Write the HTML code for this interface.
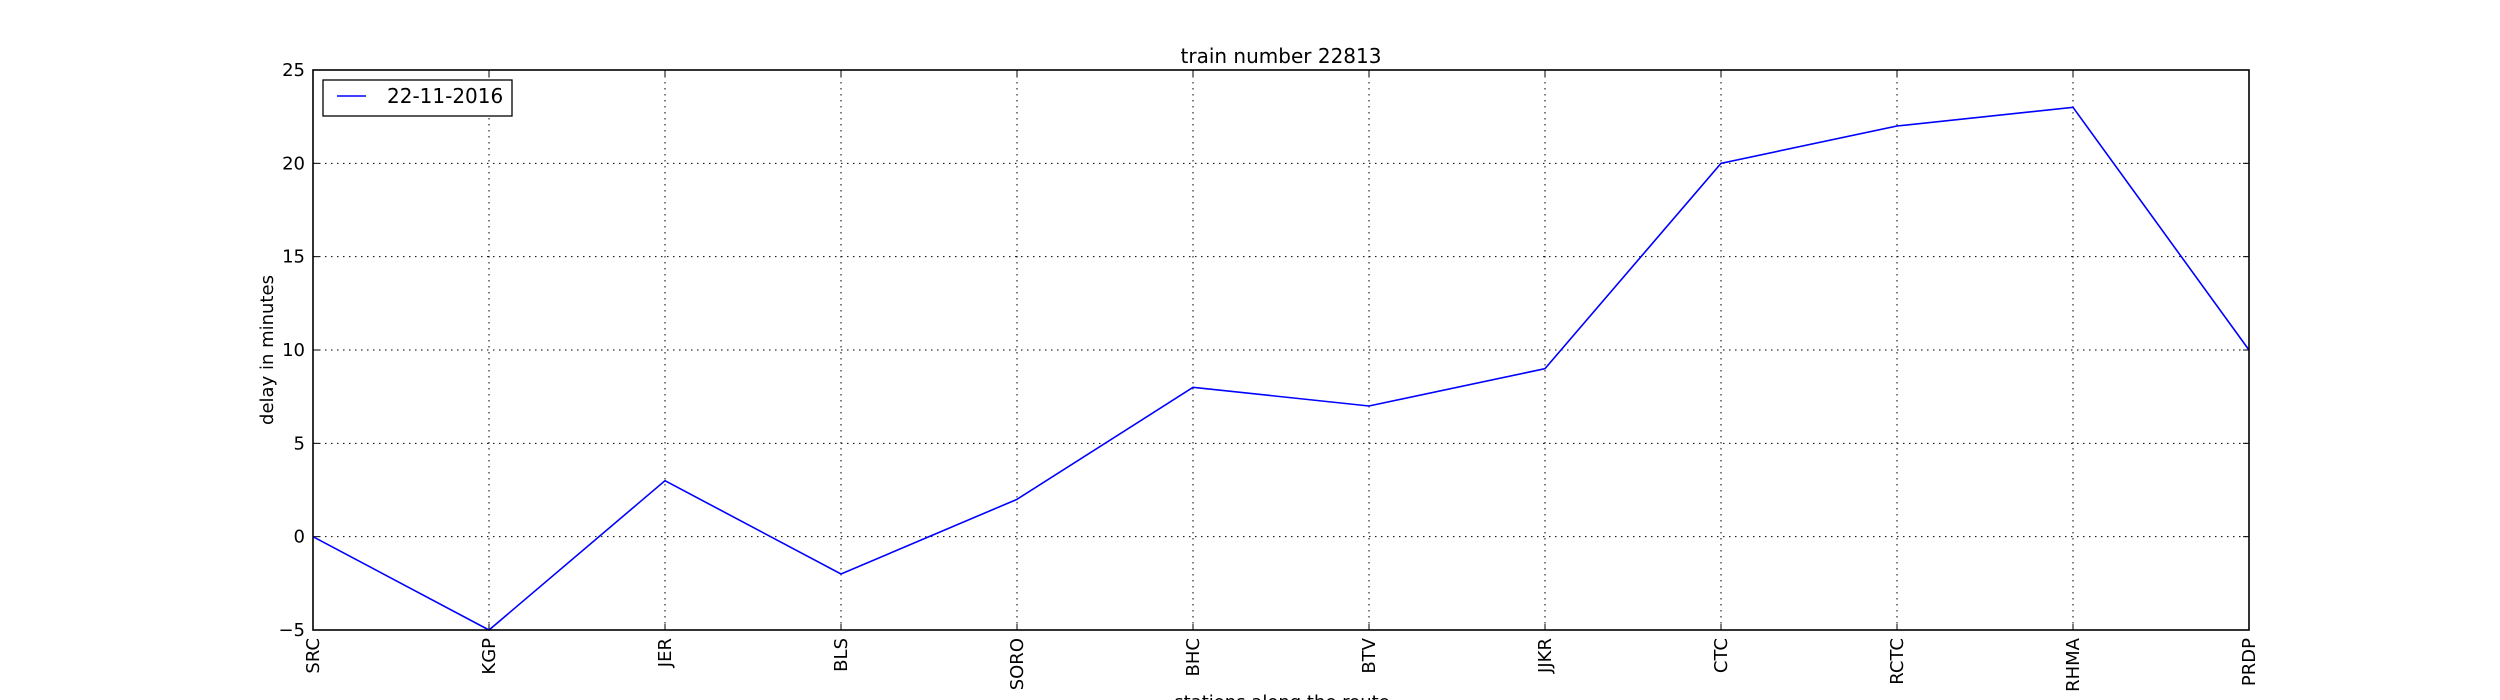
<!DOCTYPE html>
<html><head><meta charset="utf-8"><style>
html,body{margin:0;padding:0;background:#fff;width:2500px;height:700px;overflow:hidden}
svg text{font-family:"DejaVu Sans","Liberation Sans",sans-serif;fill:#000}
</style></head><body>
<svg id="chart" width="2500" height="700" xmlns="http://www.w3.org/2000/svg"></svg>
<script>
const stations = ["SRC","KGP","JER","BLS","SORO","BHC","BTV","JJKR","CTC","RCTC","RHMA","PRDP"];
const delays = [0,-5,3,-2,2,8,7,9,20,22,23,10];
const yTicks = [-5,0,5,10,15,20,25];
const seriesLabel = "22-11-2016";

const L=313,R=2249,T=70,B=630,yMin=-5,yMax=25;
const xs=i=>L+(R-L)*i/(stations.length-1);
const ys=v=>B-(v-yMin)/(yMax-yMin)*(B-T);
const svg=document.getElementById('chart');
const NS="http://www.w3.org/2000/svg";
function mk(tag,attrs,parent){const e=document.createElementNS(NS,tag);for(const k in attrs)e.setAttribute(k,attrs[k]);(parent||svg).appendChild(e);return e;}

yTicks.forEach(v=>{
  const y=ys(v);
  const g=mk('line',{x1:L,x2:R,y1:y,y2:y,stroke:'#000','stroke-width':1,'stroke-dasharray':'1.5,4.5'});
  
  
  mk('line',{x1:L,x2:L+6,y1:y,y2:y,stroke:'#000'});
  mk('line',{x1:R-6,x2:R,y1:y,y2:y,stroke:'#000'});
  const t=mk('text',{x:L-8,y:y+6,'text-anchor':'end','font-size':18});
  t.textContent=(v<0?'\u2212'+(-v):v);
  
  
});
stations.forEach((s,i)=>{
  const x=xs(i);
  const g=mk('line',{x1:x,x2:x,y1:T,y2:B,stroke:'#000','stroke-width':1,'stroke-dasharray':'1.5,4.5'});
  
  
  mk('line',{x1:x,x2:x,y1:B-6,y2:B,stroke:'#000'});
  mk('line',{x1:x,x2:x,y1:T,y2:T+6,stroke:'#000'});
  const t=mk('text',{x:0,y:0,'text-anchor':'end','font-size':18,transform:`translate(${x+6},${B+8}) rotate(-90)`});
  t.textContent=s;
  
  
});
const pl=mk('polyline',{points:delays.map((v,i)=>xs(i)+','+ys(v)).join(' '),fill:'none',stroke:'#0000ff','stroke-width':1.6});


const fr=mk('rect',{x:L,y:T,width:R-L,height:B-T,fill:'none',stroke:'#000','stroke-width':1.6});



const lg=mk('g',{});


mk('rect',{x:323,y:80,width:189,height:36,fill:'#fff',stroke:'#000','stroke-width':1.3},lg);
mk('line',{x1:337,x2:366,y1:96,y2:96,stroke:'#0000ff','stroke-width':1.6},lg);
const lt=mk('text',{x:387,y:103,'font-size':20},lg);
lt.textContent=seriesLabel;

const tt=mk('text',{x:1281,y:63,'text-anchor':'middle','font-size':20});
tt.textContent='train number 22813';


const xl=mk('text',{x:1282,y:708,'text-anchor':'middle','font-size':18});
xl.textContent='stations along the route';


const yl=mk('text',{x:0,y:0,'text-anchor':'middle','font-size':18,transform:'translate(273,350) rotate(-90)'});
yl.textContent='delay in minutes';


</script>
</body></html>
